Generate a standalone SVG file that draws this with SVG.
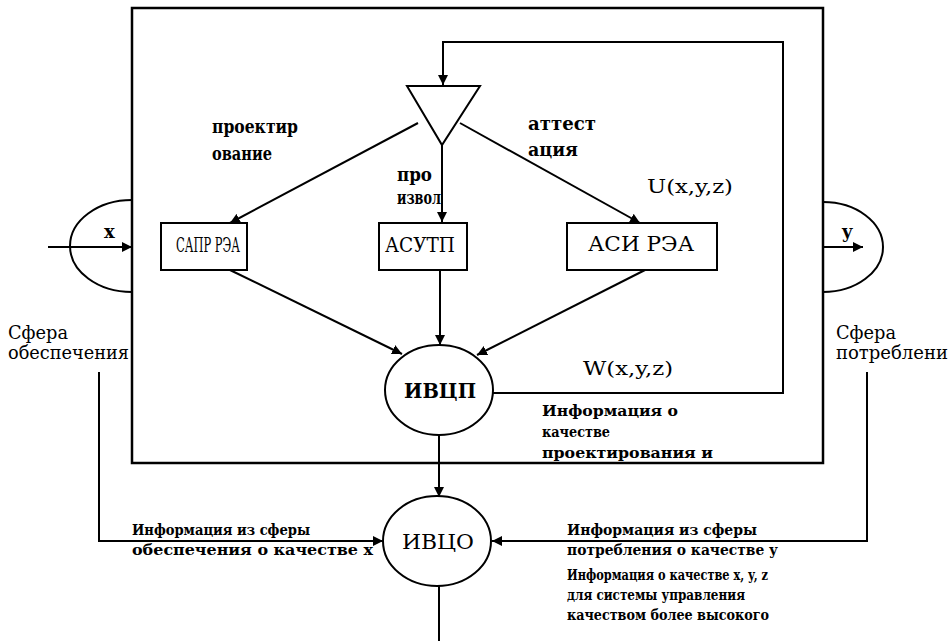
<svg xmlns="http://www.w3.org/2000/svg" width="948" height="641" viewBox="0 0 948 641">
<defs>
<marker id="ah" viewBox="0 0 10 10" refX="10" refY="5" markerWidth="10" markerHeight="10" markerUnits="userSpaceOnUse" orient="auto">
<path d="M0,0 L10,5 L0,10 z" fill="#000"/>
</marker>
</defs>
<style>
.ln{fill:none;stroke:#000;stroke-width:2}
.fr{fill:none;stroke:#000;stroke-width:2.5}
.sh{fill:#fff;stroke:#000;stroke-width:2}
.t{font-family:"DejaVu Serif","Liberation Serif",serif;fill:#000}
.b{font-weight:bold}
.lb{font-size:18px}
.ib{font-size:15px;font-weight:bold}
.nd{font-size:20px;text-anchor:middle}
</style>
<rect width="948" height="641" fill="#fff"/>
<g id="frame">
<rect x="132" y="8" width="691" height="455" class="fr"/>
</g>
<g id="connectors">
<polyline points="493,393 783,393 783,42 443,42 443,85" class="ln" marker-end="url(#ah)"/>
<line x1="48" y1="247" x2="132" y2="247" class="ln" marker-end="url(#ah)"/>
<line x1="823" y1="247" x2="863" y2="247" class="ln" marker-end="url(#ah)"/>
<line x1="418" y1="123" x2="230" y2="223" class="ln" marker-end="url(#ah)"/>
<line x1="442" y1="145" x2="442" y2="222" class="ln" marker-end="url(#ah)"/>
<line x1="460" y1="123" x2="640" y2="223" class="ln" marker-end="url(#ah)"/>
<line x1="230" y1="270" x2="402" y2="354" class="ln" marker-end="url(#ah)"/>
<line x1="440" y1="270" x2="440" y2="345" class="ln" marker-end="url(#ah)"/>
<line x1="645" y1="270" x2="477" y2="355" class="ln" marker-end="url(#ah)"/>
<line x1="439" y1="435" x2="439" y2="497" class="ln" marker-end="url(#ah)"/>
<polyline points="99,372 99,541 383,541" class="ln" marker-end="url(#ah)"/>
<polyline points="867,372 867,541 492,541" class="ln" marker-end="url(#ah)"/>
<line x1="439" y1="586" x2="439" y2="641" class="ln"/>
</g>
<g id="sphere-in">
<path d="M132,200 A62,46 0 0 0 132,292" class="ln"/>
<text x="104" y="238" class="t b lb">x</text>
</g>
<g id="sphere-out">
<path d="M823,202 A60,45 0 0 1 823,292" class="ln"/>
<text x="842" y="238" class="t b lb">y</text>
</g>
<g id="switch">
<polygon points="407,86 480,86 442,145" class="sh"/>
</g>
<g id="sapr">
<rect x="161" y="223" width="86" height="47" class="sh"/>
<text x="208" y="252" class="t nd" textLength="64" lengthAdjust="spacingAndGlyphs">САПР РЭА</text>
</g>
<g id="asutp">
<rect x="379" y="223" width="88" height="47" class="sh"/>
<text x="420" y="252" class="t nd" textLength="70" lengthAdjust="spacingAndGlyphs">АСУТП</text>
</g>
<g id="asi">
<rect x="567" y="223" width="150" height="47" class="sh"/>
<text x="641" y="251" class="t nd" textLength="106" lengthAdjust="spacingAndGlyphs">АСИ РЭА</text>
</g>
<g id="ivcp">
<ellipse cx="439" cy="390" rx="54" ry="45" class="sh"/>
<text x="440" y="398" class="t nd b" textLength="72" lengthAdjust="spacingAndGlyphs">ИВЦП</text>
</g>
<g id="ivco">
<ellipse cx="437" cy="541" rx="54" ry="45" class="sh"/>
<text x="438" y="549" class="t nd" style="font-size:21px" textLength="72" lengthAdjust="spacingAndGlyphs">ИВЦО</text>
</g>
<g id="labels">
<text x="212" y="133" class="t b lb" textLength="86" lengthAdjust="spacingAndGlyphs">проектир</text>
<text x="212" y="160" class="t b lb" textLength="60" lengthAdjust="spacingAndGlyphs">ование</text>
<text x="397" y="181" class="t b lb" textLength="35" lengthAdjust="spacingAndGlyphs">про</text>
<text x="397" y="204" class="t b lb" textLength="44" lengthAdjust="spacingAndGlyphs">извол</text>
<text x="528" y="130" class="t b lb" textLength="68" lengthAdjust="spacingAndGlyphs">аттест</text>
<text x="528" y="156" class="t b lb" textLength="50" lengthAdjust="spacingAndGlyphs">ация</text>
<text x="647" y="193" class="t" style="font-size:18px" textLength="86" lengthAdjust="spacingAndGlyphs">U(x,y,z)</text>
<text x="583" y="375" class="t" style="font-size:18px" textLength="90" lengthAdjust="spacingAndGlyphs">W(x,y,z)</text>
<text x="542" y="416" class="t ib" textLength="136" lengthAdjust="spacingAndGlyphs">Информация о</text>
<text x="542" y="437" class="t ib" textLength="68" lengthAdjust="spacingAndGlyphs">качестве</text>
<text x="542" y="458" class="t ib" textLength="171" lengthAdjust="spacingAndGlyphs">проектирования и</text>
<text x="8" y="339" class="t lb" textLength="60" lengthAdjust="spacingAndGlyphs">Сфера</text>
<text x="8" y="359" class="t lb" textLength="121" lengthAdjust="spacingAndGlyphs">обеспечения</text>
<text x="836" y="339" class="t lb" textLength="60" lengthAdjust="spacingAndGlyphs">Сфера</text>
<text x="836" y="359" class="t lb" textLength="112" lengthAdjust="spacingAndGlyphs">потреблени</text>
<text x="132" y="535" class="t ib" textLength="178" lengthAdjust="spacingAndGlyphs">Информация из сферы</text>
<text x="132" y="555" class="t ib" textLength="241" lengthAdjust="spacingAndGlyphs">обеспечения о качестве х</text>
<text x="567" y="535" class="t ib" textLength="190" lengthAdjust="spacingAndGlyphs">Информация из сферы</text>
<text x="567" y="555" class="t ib" textLength="211" lengthAdjust="spacingAndGlyphs">потребления о качестве у</text>
<text x="567" y="580" class="t ib" textLength="201" lengthAdjust="spacingAndGlyphs">Информация о качестве x, y, z</text>
<text x="567" y="600" class="t ib" textLength="178" lengthAdjust="spacingAndGlyphs">для системы управления</text>
<text x="567" y="620" class="t ib" textLength="202" lengthAdjust="spacingAndGlyphs">качеством более высокого</text>
</g>
</svg>
